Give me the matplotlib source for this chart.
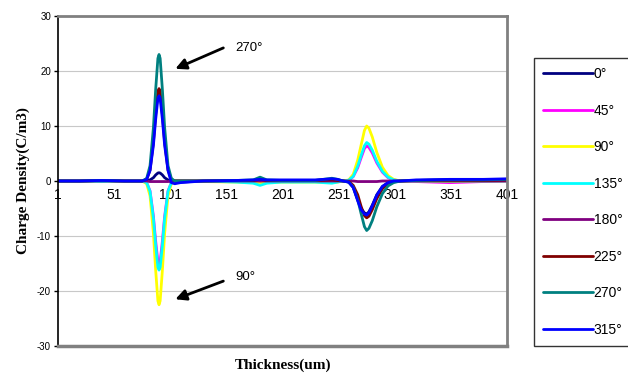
import matplotlib
matplotlib.use("Agg")
import matplotlib.pyplot as plt

# thickness positions (um) where the profiles were sampled
thickness = [1, 20, 40, 60, 70,
             76, 80, 83, 86, 88, 90, 91, 92, 94, 96, 99, 102, 105,
             110, 130, 160, 175, 181, 187, 200, 230, 245, 250,
             255, 260, 264, 268, 271, 274, 276, 278, 281, 285, 290, 295, 300, 306,
             320, 350, 380, 401]

rho_0 = [0, 0, 0.1, 0, 0,
         0, 0.03, 0.2, 0.6, 1.1, 1.45, 1.5, 1.45, 1.1, 0.6, 0.2, -0.2, -0.3,
         -0.2, 0, 0.1, 0.1, 0.2, 0.1, 0.1, 0.1, 0.2, 0.2,
         0, -0.2, -1.1, -3.4, -5.0, -5.8, -6.0, -5.6, -4.4, -2.5, -1.0, -0.3, 0, 0,
         0.1, 0.2, 0.2, 0.3]
rho_45 = [0, 0, -0.1, 0, 0,
          0, -0.3, -1.8, -6.4, -10.9, -14.7, -15.2, -14.7, -10.9, -6.4, -1.8, -0.3, 0,
          0, 0, -0.1, -0.2, -0.3, -0.2, -0.1, -0.1, -0.2, -0.1,
          0, 0.13, 0.8, 2.4, 4.2, 5.9, 6.4, 6.1, 5.1, 3.3, 1.6, 0.6, 0.2, 0,
          -0.1, -0.3, -0.1, 0]
rho_90 = [0, 0, -0.1, 0, 0,
          0, -0.5, -2.7, -9.5, -16.2, -21.8, -22.5, -21.8, -16.2, -9.5, -2.7, -0.5, 0,
          0, -0.1, -0.2, -0.3, -0.5, -0.3, -0.2, -0.2, -0.3, -0.2,
          0, 0.2, 1.2, 3.8, 6.5, 9.2, 10.0, 9.6, 8.0, 5.2, 2.5, 1.0, 0.3, 0,
          0, -0.1, 0, 0]
rho_135 = [0, 0, -0.1, 0, 0,
           0, -0.3, -1.9, -6.8, -11.7, -15.7, -16.2, -15.7, -11.7, -6.8, -1.9, -0.3, 0,
           0, 0, -0.2, -0.4, -0.8, -0.4, -0.2, -0.2, -0.4, -0.2,
           0, 0.14, 0.84, 2.7, 4.6, 6.4, 7.0, 6.7, 5.6, 3.6, 1.75, 0.7, 0.2, 0,
           0, 0, 0, 0]
rho_180 = [0, 0, 0, 0, 0,
           0, 0, -0.1, -0.1, -0.1, -0.1, -0.1, -0.1, -0.1, -0.1, -0.1, 0, 0,
           0, 0, 0, 0, 0, 0, 0, 0, 0, 0,
           0, 0, 0, -0.1, -0.1, -0.1, -0.1, -0.1, -0.1, -0.1, 0, 0, 0, 0,
           0, 0, 0, 0]
rho_225 = [0, 0, 0.1, 0, 0,
           0, 0.3, 2.0, 7.1, 12.1, 16.3, 16.8, 16.3, 12.1, 7.1, 2.0, 0.3, 0,
           0, 0, 0.1, 0.1, 0.3, 0.1, 0.1, 0.1, 0.2, 0.1,
           0, -0.1, -0.8, -2.5, -4.6, -6.3, -6.7, -6.4, -5.2, -3.2, -1.4, -0.5, -0.1, 0,
           0.1, 0.1, 0.1, 0.2]
rho_270 = [0, 0, 0.1, 0, 0,
           0, 0.46, 2.8, 9.7, 16.6, 22.3, 23.0, 22.3, 16.6, 9.7, 2.8, 0.46, 0,
           0, 0, 0.1, 0.2, 0.7, 0.2, 0.1, 0.1, 0.5, 0.3,
           0, -0.2, -1.1, -3.4, -5.9, -8.3, -9.0, -8.6, -7.2, -4.7, -2.3, -0.9, -0.3, 0,
           0.1, 0.2, 0.2, 0.3]
rho_315 = [0, 0, 0.1, 0, 0,
           0, 0.3, 1.9, 6.5, 11.2, 15.0, 15.5, 15.0, 11.2, 6.5, 1.9, -0.3, -0.5,
           -0.3, 0, 0.1, 0.2, 0.3, 0.2, 0.2, 0.2, 0.4, 0.3,
           0, -0.2, -1.2, -3.6, -5.2, -6.0, -6.2, -5.8, -4.5, -2.6, -1.0, -0.3, 0, 0,
           0.2, 0.3, 0.3, 0.4]

angles = ["0°", "45°", "90°", "135°", "180°", "225°", "270°", "315°"]
profiles = [rho_0, rho_45, rho_90, rho_135, rho_180, rho_225, rho_270, rho_315]
colors = ["#000080", "#ff00ff", "#ffff00", "#00ffff",
          "#800080", "#800000", "#008080", "#0000ff"]

x_ticks = [1, 51, 101, 151, 201, 251, 301, 351, 401]
y_ticks = [-30, -20, -10, 0, 10, 20, 30]

plt.rcParams['font.family'] = ['Liberation Sans', 'DejaVu Sans']
plt.rcParams['axes.unicode_minus'] = False

fig = plt.figure(figsize=(6.28, 3.76), dpi=100)
ax = fig.add_axes([58 / 628, 30 / 376, 449 / 628, 330 / 376])

for label, rho, c in zip(angles, profiles, colors):
    ax.plot(thickness, rho, color=c, lw=2.0, label=label, solid_capstyle='round')

ax.set_xlim(1, 401)
ax.set_ylim(-30, 30)
ax.set_yticks(y_ticks)
ax.set_xticks(x_ticks)
ax.set_xticklabels([str(t) for t in x_ticks], fontsize=6)
ax.tick_params(axis='y', labelsize=7, length=3, width=1, direction='out', pad=2)
ax.tick_params(axis='x', length=0, pad=5)

for g in [-20, -10, 10, 20]:
    ax.axhline(g, color="#c8c8c8", lw=0.8, zorder=0)

# x tick labels sit under the zero line, frame drawn separately
ax.spines['bottom'].set_position(('data', 0))
ax.spines['bottom'].set_visible(False)
ax.spines['left'].set_color('black')
ax.spines['left'].set_linewidth(1.2)
for s in ['top', 'right']:
    ax.spines[s].set_color('#808080')
    ax.spines[s].set_linewidth(2)
ax.plot([0, 1], [0, 0], transform=ax.transAxes, color='#808080', lw=2.5,
        clip_on=False, zorder=3)

ax.set_ylabel("Charge Density(C/m3)", family='Liberation Serif', fontweight='bold',
              fontsize=11, labelpad=5)
fig.text(283 / 628, 1 - 365 / 376, "Thickness(um)", family='Liberation Serif',
         fontweight='bold', fontsize=11, ha='center', va='center')

arrow = dict(arrowstyle='-|>', color='black', lw=2, mutation_scale=16, shrinkA=0, shrinkB=0)
ax.annotate("", xy=(105.5, 20.4), xytext=(148.3, 24.2), arrowprops=arrow)
ax.annotate("", xy=(105.5, -21.5), xytext=(148.3, -18.2), arrowprops=arrow)
ax.text(159, 24.2, "270°", fontsize=9.5, va='center')
ax.text(159, -17.4, "90°", fontsize=9.5, va='center')

leg = fig.legend(loc='upper left', bbox_to_anchor=(534 / 628, 1 - 58 / 376),
                 fontsize=10, frameon=True, fancybox=False, handlelength=3.6,
                 handletextpad=0.05, labelspacing=1.62, borderpad=0.65,
                 borderaxespad=0)
leg.get_frame().set_edgecolor('black')
leg.get_frame().set_linewidth(1)
for h in leg.get_lines():
    h.set_linewidth(2)

fig.savefig("out.png", dpi=100)
